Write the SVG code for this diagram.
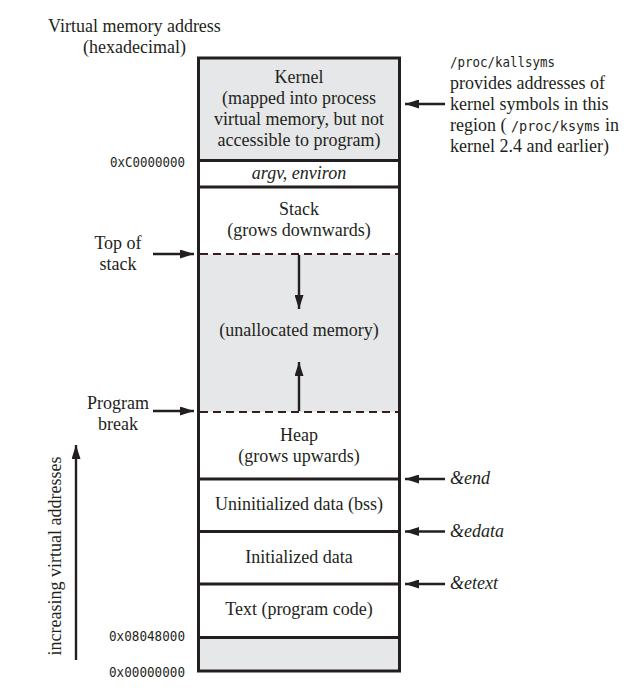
<svg xmlns="http://www.w3.org/2000/svg" width="640" height="691" viewBox="0 0 640 691" font-family="'Liberation Serif', 'DejaVu Serif', serif">
<style>
  .serif { font-family: "Liberation Serif", "DejaVu Serif", serif; font-size: 18px; fill: #231f20; }
  .it { font-style: italic; }
  .mono { font-family: "DejaVu Sans Mono", "Liberation Mono", monospace; font-size: 13.5px; fill: #231f20; }
  .hex { font-family: "DejaVu Sans Mono", "Liberation Mono", monospace; font-size: 14px; fill: #231f20; text-anchor: end; }
  .mid { text-anchor: middle; }
  .seg { stroke: none; }
  .gray { fill: #e6e7e8; }
  .white { fill: #ffffff; }
  .sep { stroke: #231f20; stroke-width: 3; fill: none; }
  .dash { stroke: #3b1c1c; stroke-width: 2.2; stroke-dasharray: 8 5; fill: none; }
  .conn { stroke: #231f20; stroke-width: 2.4; fill: none; marker-end: url(#ah); }
</style>
<defs>
  <marker id="ah" viewBox="0 0 14 9" refX="14" refY="4.5" markerWidth="14" markerHeight="9" orient="auto" markerUnits="userSpaceOnUse">
    <path d="M0,0 L14,4.5 L0,9 z" fill="#231f20"/>
  </marker>
</defs>
<rect width="640" height="691" fill="#ffffff"/>

<!-- header -->
<g id="header">
  <text class="serif" x="48" y="32">Virtual memory address</text>
  <text class="serif" x="83" y="53">(hexadecimal)</text>
</g>

<!-- segments -->
<g id="kernel">
  <rect class="seg gray" x="198.5" y="58" width="201" height="102.5"/>
  <text class="serif mid" x="299" y="83">Kernel</text>
  <text class="serif mid" x="299" y="104">(mapped into process</text>
  <text class="serif mid" x="299" y="125">virtual memory, but not</text>
  <text class="serif mid" x="299" y="146">accessible to program)</text>
</g>
<g id="argv">
  <rect class="seg white" x="198.5" y="160.5" width="201" height="26.5"/>
  <text class="serif it mid" x="299" y="179" font-size="16">argv, environ</text>
</g>
<g id="stack">
  <rect class="seg white" x="198.5" y="187" width="201" height="67"/>
  <text class="serif mid" x="299" y="215">Stack</text>
  <text class="serif mid" x="299" y="236">(grows downwards)</text>
</g>
<g id="unallocated">
  <rect class="seg gray" x="198.5" y="254" width="201" height="158"/>
  <text class="serif mid" x="299" y="336">(unallocated memory)</text>
</g>
<g id="heap">
  <rect class="seg white" x="198.5" y="412" width="201" height="67"/>
  <text class="serif mid" x="299" y="441">Heap</text>
  <text class="serif mid" x="299" y="462">(grows upwards)</text>
</g>
<g id="bss">
  <rect class="seg white" x="198.5" y="479" width="201" height="52.5"/>
  <text class="serif mid" x="299" y="510">Uninitialized data (bss)</text>
</g>
<g id="data">
  <rect class="seg white" x="198.5" y="531.5" width="201" height="52.5"/>
  <text class="serif mid" x="299" y="563">Initialized data</text>
</g>
<g id="text">
  <rect class="seg white" x="198.5" y="584" width="201" height="53.5"/>
  <text class="serif mid" x="299" y="615">Text (program code)</text>
</g>
<g id="reserved">
  <rect class="seg gray" x="198.5" y="637.5" width="201" height="33.5"/>
</g>

<!-- separators and outline -->
<g id="outline">
  <line class="sep" x1="198.5" y1="160.5" x2="399.5" y2="160.5"/>
  <line class="sep" x1="198.5" y1="187" x2="399.5" y2="187"/>
  <line class="dash" x1="200" y1="254" x2="398" y2="254"/>
  <line class="dash" x1="200" y1="412" x2="398" y2="412"/>
  <line class="sep" x1="198.5" y1="479" x2="399.5" y2="479"/>
  <line class="sep" x1="198.5" y1="531.5" x2="399.5" y2="531.5"/>
  <line class="sep" x1="198.5" y1="584" x2="399.5" y2="584"/>
  <line class="sep" x1="198.5" y1="637.5" x2="399.5" y2="637.5"/>
  <rect class="sep" x="198.5" y="58" width="201" height="613"/>
</g>

<!-- address labels -->
<g id="addresses">
  <text class="hex" x="185" y="167" textLength="75" lengthAdjust="spacingAndGlyphs">0xC0000000</text>
  <text class="hex" x="185" y="641" textLength="76" lengthAdjust="spacingAndGlyphs">0x08048000</text>
  <text class="hex" x="185" y="677" textLength="76" lengthAdjust="spacingAndGlyphs">0x00000000</text>
</g>

<!-- left labels -->
<g id="top-of-stack">
  <text class="serif mid" x="118" y="249">Top of</text>
  <text class="serif mid" x="118" y="270">stack</text>
</g>
<g id="program-break">
  <text class="serif mid" x="118" y="409">Program</text>
  <text class="serif mid" x="118" y="430">break</text>
</g>
<g id="increasing">
  <text class="serif mid" font-size="17" transform="translate(61,556) rotate(-90)">increasing virtual addresses</text>
</g>

<!-- right labels -->
<g id="kallsyms-note">
  <text class="mono" x="450" y="67" textLength="105" lengthAdjust="spacingAndGlyphs">/proc/kallsyms</text>
  <text class="serif" x="450" y="89">provides addresses of</text>
  <text class="serif" x="450" y="110">kernel symbols in this</text>
  <text class="serif" x="450" y="131">region ( <tspan class="mono">/proc/ksyms</tspan> in</text>
  <text class="serif" x="450" y="152">kernel 2.4 and earlier)</text>
</g>
<g id="symbols">
  <text class="serif it" x="450" y="484" font-size="17">&amp;end</text>
  <text class="serif it" x="450" y="537" font-size="17">&amp;edata</text>
  <text class="serif it" x="450" y="589" font-size="17">&amp;etext</text>
</g>

<!-- connectors -->
<g id="connectors">
  <line class="conn" x1="445" y1="104" x2="405" y2="104"/>
  <line class="conn" x1="445" y1="479" x2="405" y2="479"/>
  <line class="conn" x1="445" y1="531.5" x2="405" y2="531.5"/>
  <line class="conn" x1="445" y1="584" x2="405" y2="584"/>
  <line class="conn" x1="153" y1="254" x2="194" y2="254"/>
  <line class="conn" x1="153" y1="411" x2="194" y2="411"/>
  <line class="conn" x1="299" y1="255" x2="299" y2="309"/>
  <line class="conn" x1="299" y1="411" x2="299" y2="362"/>
  <line class="conn" x1="76" y1="660" x2="76" y2="445"/>
</g>
</svg>
